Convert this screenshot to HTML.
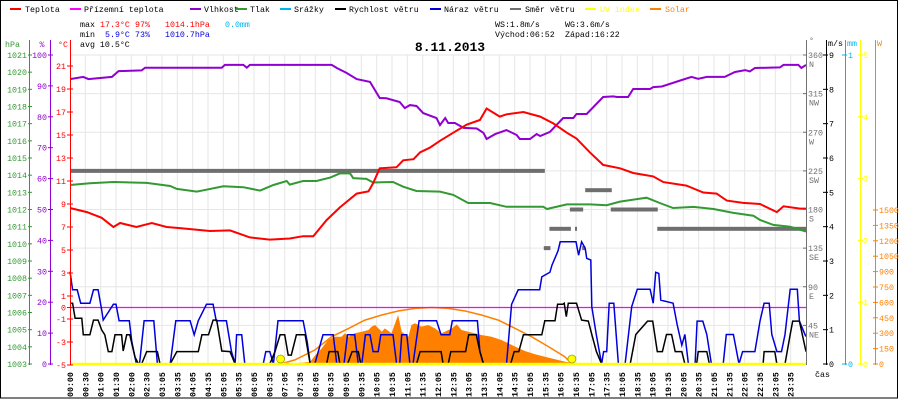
<!DOCTYPE html>
<html><head><meta charset="utf-8">
<style>
html,body{margin:0;padding:0;background:#fff;}
#wrap{position:relative;width:900px;height:400px;overflow:hidden;}
svg text{font-family:"Liberation Mono",monospace;}
</style></head>
<body>
<div id="wrap">
<svg id="chart" width="900" height="400" viewBox="0 0 900 400" xmlns="http://www.w3.org/2000/svg">
<rect x="0.5" y="0.5" width="897" height="397.5" fill="#fff" stroke="#000" stroke-width="1"/>
<g id="grid"></g>
<g id="series"></g>
<g id="axes"></g>
<g id="legend" font-size="8.3">
  <g><rect x="10" y="8" width="11" height="2" fill="#f00"/><text x="25" y="12">Teplota</text></g>
  <g><rect x="70" y="8" width="11" height="2" fill="#f0f"/><text x="84" y="12">Přízemní teplota</text></g>
  <g><rect x="190" y="8" width="11" height="2" fill="#9000d0"/><text x="204" y="12">Vlhkost</text></g>
  <g><rect x="236" y="8" width="11" height="2" fill="#339933"/><text x="250" y="12">Tlak</text></g>
  <g><rect x="280" y="8" width="11" height="2" fill="#00b4f0"/><text x="294" y="12">Srážky</text></g>
  <g><rect x="335" y="8" width="11" height="2" fill="#000"/><text x="349" y="12">Rychlost větru</text></g>
  <g><rect x="430" y="8" width="11" height="2" fill="#0000dd"/><text x="444" y="12">Náraz větru</text></g>
  <g><rect x="510" y="8" width="11" height="2" fill="#707070"/><text x="525" y="12">Směr větru</text></g>
  <g><rect x="585" y="8" width="11" height="2" fill="#ff0"/><text x="600" y="12" fill="#ff0">UV index</text></g>
  <g><rect x="650" y="8" width="11" height="2" fill="#ff8000"/><text x="665" y="12" fill="#ff8000">Solar</text></g>
</g>
<g id="stats" font-size="8.3">
  <text x="80" y="27">max</text>
  <text x="100" y="27" fill="#f00">17.3°C</text>
  <text x="135" y="27" fill="#f00">97%</text>
  <text x="165" y="27" fill="#f00">1014.1hPa</text>
  <text x="225" y="27" fill="#00b4f0">0.0mm</text>
  <text x="80" y="37">min</text>
  <text x="105" y="37" fill="#0000dd">5.9°C</text>
  <text x="135" y="37" fill="#0000dd">73%</text>
  <text x="165" y="37" fill="#0000dd">1010.7hPa</text>
  <text x="80" y="47">avg 10.5°C</text>
  <text x="495" y="27">WS:1.8m/s</text>
  <text x="565" y="27">WG:3.6m/s</text>
  <text x="495" y="37">Východ:06:52</text>
  <text x="565" y="37">Západ:16:22</text>
  <text x="450" y="51" text-anchor="middle" font-family="Liberation Sans, sans-serif" font-weight="bold" font-size="13">8.11.2013</text>
</g>
</svg>
</div>
<script>
const temp = [[0,8.65],[33,8.3],[62,7.8],[85,7.0],[98,7.35],[130,7.0],[160,7.35],[189,7.0],[215,6.9],[274,6.65],[313,6.7],[352,6.1],[391,5.9],[430,6.0],[456,6.2],[476,6.2],[502,7.6],[528,8.7],[561,9.9],[584,10.1],[593,10.8],[606,12.1],[639,12.2],[652,12.8],[672,12.9],[685,13.5],[704,13.9],[724,14.5],[750,15.2],[776,15.9],[802,16.3],[815,17.3],[841,16.6],[854,16.8],[887,17.0],[920,16.6],[946,16.0],[972,15.2],[991,14.7],[1017,13.5],[1043,12.4],[1076,12.1],[1102,11.7],[1141,11.4],[1161,10.9],[1206,10.6],[1239,10.0],[1265,9.9],[1285,9.3],[1317,9.1],[1350,9.0],[1383,8.3],[1396,8.8],[1428,8.6],[1440,8.6]];
const apparentTemp = [[0,0],[1440,0]];
const humidity = [[0,92.2],[26,92.9],[36,92.2],[82,92.9],[95,94.8],[140,95],[147,95.9],[297,95.9],[303,96.8],[339,96.8],[346,95.9],[352,96.8],[512,96.8],[522,95.8],[541,94.2],[561,92.2],[587,91.3],[606,86.1],[619,86],[645,84.8],[655,82.8],[665,83.8],[678,83.5],[691,81.2],[717,79.6],[724,77.3],[734,79.6],[740,78],[753,78],[770,76.4],[796,76.2],[809,74.8],[815,72.8],[832,74.4],[854,75.7],[874,74.1],[880,72.8],[900,72.8],[913,74.4],[920,73.8],[939,75.1],[965,79.6],[985,79.6],[991,80.9],[1011,80.9],[1043,86.4],[1063,86.6],[1070,86.4],[1092,86.4],[1102,89],[1135,89],[1141,89.6],[1158,89.8],[1197,91.9],[1216,92.9],[1229,92.3],[1246,92.9],[1281,92.9],[1301,94.5],[1321,95.1],[1330,94.7],[1340,95.8],[1389,96],[1396,96.8],[1425,96.8],[1431,95.8],[1440,96.8]];
const pressure = [[0,1013.43],[39,1013.53],[85,1013.6],[150,1013.55],[196,1013.37],[209,1013.2],[248,1013.04],[261,1013.12],[300,1013.35],[339,1013.3],[372,1013.1],[398,1013.43],[424,1013.66],[430,1013.45],[456,1013.66],[482,1013.66],[509,1013.86],[528,1014.1],[548,1014.1],[554,1013.83],[580,1013.78],[593,1013.57],[632,1013.6],[652,1013.33],[678,1013.08],[724,1013.04],[750,1012.85],[779,1012.38],[822,1012.38],[854,1012.16],[926,1012.16],[933,1012.03],[972,1012.3],[1017,1012.3],[1050,1012.25],[1076,1012.46],[1128,1012.69],[1154,1012.38],[1180,1012.09],[1220,1012.15],[1259,1012.03],[1298,1011.8],[1337,1011.64],[1350,1011.39],[1376,1011.1],[1409,1011.0],[1440,1010.71]];
const windSpeed = [[0,1.77],[5,1.77],[10,1.33],[23,1.33],[26,0.85],[39,0.85],[46,1.28],[55,1.28],[62,0.99],[68,0.85],[75,0.36],[82,0.36],[88,0.85],[101,0.85],[104,0.38],[111,0.85],[117,0.85],[127,0.21],[134,0],[140,0],[150,0.36],[171,0.36],[176,0],[196,0],[209,0.36],[251,0.36],[258,0.85],[271,0.85],[280,1.28],[287,1.28],[297,0.38],[313,0.36],[323,0],[391,0],[401,0.36],[411,0.85],[420,0.85],[427,0.26],[433,0.26],[443,0.85],[460,0.85],[470,0],[502,0],[507,0.36],[524,0.36],[528,0],[543,0],[552,0.36],[564,0.36],[569,0],[678,0],[685,0.36],[726,0.36],[730,0],[740,0],[745,0.36],[774,0.36],[780,0.85],[795,0.85],[802,0.36],[809,0],[862,0],[869,0.36],[878,0.36],[887,0.85],[923,0.85],[929,1.26],[949,1.26],[954,1.74],[964,1.74],[967,1.77],[971,1.38],[975,1.77],[991,1.77],[1001,1.28],[1014,1.25],[1021,0.86],[1030,0.36],[1040,0],[1096,0],[1107,0.86],[1130,1.25],[1140,1.25],[1149,0.36],[1159,0.36],[1167,0.86],[1177,0.86],[1184,0.36],[1197,0.36],[1203,0],[1226,0],[1229,0.36],[1246,0.36],[1251,0],[1356,0],[1358,0.36],[1379,0.36],[1383,0],[1399,0],[1409,0.86],[1414,1.25],[1427,1.25],[1440,0.36]];
const windGust = [[0,2.69],[5,2.16],[14,2.16],[21,1.77],[39,1.77],[46,2.16],[55,2.16],[62,1.57],[65,1.28],[85,1.74],[90,1.74],[96,1.26],[116,1.26],[121,0.65],[130,0],[136,0],[145,1.26],[164,1.26],[171,0],[196,0],[207,1.26],[235,1.26],[243,0.85],[251,1.26],[267,1.74],[280,1.74],[286,1.26],[306,1.26],[316,0.36],[323,0],[326,0.85],[336,0.85],[342,0],[378,0],[383,0.36],[391,0.36],[398,0],[407,1.26],[456,1.26],[464,0.65],[470,0],[479,0],[495,0.85],[515,0.85],[522,0],[536,0],[543,0.85],[557,0.85],[564,0],[571,0],[578,0.85],[587,0.85],[593,0.36],[603,0.36],[608,0.85],[632,0.85],[639,0],[645,0],[649,0.85],[659,0.85],[665,0],[671,0],[683,1.26],[717,1.26],[726,0.85],[743,0.85],[748,1.26],[797,1.26],[802,0.36],[809,0],[854,0],[864,1.74],[877,2.16],[919,2.16],[923,2.54],[939,2.67],[943,2.88],[955,3.3],[959,3.56],[990,3.56],[995,3.17],[1001,3.56],[1008,3.37],[1011,3.08],[1019,3.03],[1021,1.67],[1030,0.84],[1040,0],[1044,0.36],[1050,0.36],[1055,1.77],[1064,1.77],[1073,0],[1086,0],[1099,1.67],[1110,2.18],[1135,2.18],[1141,1.77],[1146,2.67],[1152,2.64],[1156,1.86],[1180,1.77],[1188,1.14],[1197,0.55],[1203,0.86],[1210,0],[1223,0],[1227,1.25],[1238,1.25],[1246,0.86],[1255,0],[1278,0],[1284,0.86],[1298,0.86],[1309,0],[1316,0.36],[1340,0.36],[1350,1.25],[1358,1.77],[1368,1.77],[1373,0.86],[1383,0.36],[1392,0.36],[1399,0.86],[1409,2.18],[1423,2.18],[1427,1.25],[1438,0.86],[1440,0.8]];
const windDirStart = [0,1008,978,1058,938,988,1149,927,1002];
const windDirEnd = [929,1060,1004,1150,980,992,1440,940,1008];
const windDirDeg = [225,202.5,180,180,157.5,157.5,157.5,135,135];
const solar = [[404,0],[440,5],[470,22],[479,80],[492,150],[505,234],[518,266],[531,266],[538,299],[545,266],[557,299],[571,315],[584,331],[590,364],[597,380],[610,315],[616,347],[629,299],[642,477],[649,315],[662,266],[668,380],[675,396],[688,364],[701,380],[714,347],[727,299],[747,347],[757,386],[766,331],[779,315],[792,299],[805,282],[825,266],[844,234],[858,201],[871,169],[890,127],[910,94],[936,62],[968,23],[990,5],[1000,0]];
const solarMax = [[412,0],[440,40],[479,136],[512,266],[545,347],[577,428],[610,477],[642,516],[675,542],[708,550],[740,542],[773,516],[805,477],[838,428],[871,347],[903,266],[936,169],[968,71],[982,0]];
const uv = [[0,0],[1440,0]];
const sunEvents = [412, 982];
const xTickLabels = ["00:00","00:30","01:00","01:30","02:00","02:30","03:05","03:35","04:05","04:35","05:05","05:35","06:05","06:35","07:05","07:35","08:05","08:35","09:05","09:35","10:05","10:35","11:05","11:35","12:05","12:35","13:05","13:35","14:05","14:35","15:05","15:35","16:05","16:35","17:05","17:35","18:05","18:35","19:05","19:35","20:05","20:35","21:05","21:35","22:05","22:35","23:05","23:35"];
const hpaTicks = [1003,1004,1005,1006,1007,1008,1009,1010,1011,1012,1013,1014,1015,1016,1017,1018,1019,1020,1021];
const humTicks = [0,10,20,30,40,50,60,70,80,90,100];
const tempTicks = [-5,-3,-1,0,1,3,5,7,9,11,13,15,17,19,21];
const dirTicks = [[45,"NE"],[90,"E"],[135,"SE"],[180,"S"],[225,"SW"],[270,"W"],[315,"NW"],[360,"N"]];
const msTicks = [0,1,2,3,4,5,6,7,8,9];
const uvTicks = [0,1,2,3,4,5];
const solarTicks = [0,150,300,450,600,750,900,1050,1200,1350,1500];

const NS = "http://www.w3.org/2000/svg";
const FS = 8.3;
const X0 = 70, X1 = 806, YB = 364, YT = 55;
const X = m => X0 + m * (X1 - X0) / 1440;
const yTemp = t => 307.5 - t * 11.5;
const yHum = h => YB - h * (YB - YT) / 100;
const yPress = p => YB - (p - 1003) * (YB - YT) / 18;
const yMs = v => YB - v * (YB - YT) / 9;
const yDeg = d => YB - d * (YB - YT) / 360;
const ySolar = w => YB - w * 154 / 1500;
const yUv = u => YB - u * (YB - YT) / 5;

function mk(tag, attrs, parent) {
  const e = document.createElementNS(NS, tag);
  for (const k in attrs) e.setAttribute(k, attrs[k]);
  parent.appendChild(e);
  return e;
}
const grid = document.getElementById('grid');
const series = document.getElementById('series');
const axes = document.getElementById('axes');

xTickLabels.forEach((lab, i) => {
  const x = X0 + i * (X1 - X0) / 48;
  if (i > 0) {
    const l = mk('line', {x1:x, x2:x, y1:YT, y2:YB, stroke:'#e6e6e6', 'stroke-width':1}, grid);
    
    
  }
  const t = mk('text', {x:0, y:0, transform:`translate(${x+3},397) rotate(-90)`, 'font-size':FS, 'font-weight':'bold'}, axes);
  
  
  t.textContent = lab;
});
dirTicks.forEach(d => {
  const y = yDeg(d[0]);
  const l = mk('line', {x1:X0, x2:X1, y1:y, y2:y, stroke:'#e6e6e6', 'stroke-width':1}, grid);
  
  
});

function path(data, fx, fy) {
  return data.map((p, i) => (i ? 'L' : 'M') + fx(p[0]).toFixed(1) + ' ' + fy(p[1]).toFixed(1)).join(' ');
}
const sf = mk('path', {d: path(solar, X, ySolar) + ` L${X(solar[solar.length-1][0])} ${YB} L${X(solar[0][0])} ${YB} Z`, fill:'#ff8000', stroke:'none'}, series);


const sm = mk('path', {d: path(solarMax, X, ySolar), fill:'none', stroke:'#ff8000', 'stroke-width':1.5}, series);


windDirDeg.forEach((d, i) => {
  const r = mk('rect', {x:X(windDirStart[i]), y:yDeg(d)-2, width:Math.max(1, X(windDirEnd[i]) - X(windDirStart[i])), height:4, fill:'#6e6e6e'}, series);
  
  
});
const pp = mk('path', {d: path(pressure, X, yPress), fill:'none', stroke:'#339933', 'stroke-width':2}, series);


const hp = mk('path', {d: path(humidity, X, yHum), fill:'none', stroke:'#9000d0', 'stroke-width':2}, series);


const tp = mk('path', {d: path(temp, X, yTemp), fill:'none', stroke:'#ff0000', 'stroke-width':2}, series);


const ap = mk('path', {d: path(apparentTemp, X, yTemp), fill:'none', stroke:'#ff00ff', 'stroke-width':1.2}, series);


const gp = mk('path', {d: path(windGust, X, yMs), fill:'none', stroke:'#0000dd', 'stroke-width':1.5}, series);


const wp = mk('path', {d: path(windSpeed, X, yMs), fill:'none', stroke:'#000', 'stroke-width':1.5}, series);


const up = mk('path', {d: path(uv, X, yUv), fill:'none', stroke:'#ffff00', 'stroke-width':2.5}, series);


sunEvents.forEach(m => {
  const c = mk('circle', {cx:X(m), cy:YB-5, r:4, fill:'#ffff00', stroke:'#a0a000', 'stroke-width':0.8}, series);
  
  
});

function axisLine(x, color, name, y0) {
  const l = mk('line', {x1:x, x2:x, y1:y0 || 40, y2:YB+1, stroke:color, 'stroke-width':1}, axes);
  
  
}
function label(x, y, txt, color, anchor, name) {
  const t = mk('text', {x:x, y:y, fill:color, 'font-size':FS, 'text-anchor':anchor}, axes);
  
  
  t.textContent = txt;
}
function tick(x1, x2, y, color) {
  const l = mk('line', {x1:x1, x2:x2, y1:y, y2:y, stroke:color, 'stroke-width':1}, axes);
  
  
}
axisLine(29.5, '#339933', 'pressure-axis');
axisLine(50.5, '#9000d0', 'humidity-axis');
axisLine(70.5, '#ff0000', 'temperature-axis');
axisLine(806.5, '#707070', 'wind-direction-axis');
axisLine(826.5, '#000', 'wind-speed-axis');
axisLine(845.5, '#00b4f0', 'rain-axis');
axisLine(860.5, '#ffff00', 'uv-axis');
axisLine(875.5, '#ff8000', 'solar-axis');
label(5, 47, 'hPa', '#339933', 'start', 'pressure-axis-title');
label(42, 47, '%', '#9000d0', 'middle', 'humidity-axis-title');
label(63, 47, '°C', '#ff0000', 'middle', 'temperature-axis-title');
label(809, 43, '°', '#707070', 'start', 'direction-axis-title');
label(828, 46, 'm/s', '#000', 'start', 'wind-speed-axis-title');
label(847, 46, 'mm', '#00b4f0', 'start', 'rain-axis-title');
label(877, 46, 'W', '#ff8000', 'start', 'solar-axis-title');
label(815, 377, 'čas', '#000', 'start', 'x-axis-title');
hpaTicks.forEach(p => { const y = yPress(p); tick(28, 32, y, '#339933'); label(27, y+3, String(p), '#339933', 'end', 'pressure-tick-label'); });
humTicks.forEach(h => { const y = yHum(h); tick(48, 53, y, '#9000d0'); label(47, y+3, String(h), '#9000d0', 'end', 'humidity-tick-label'); });
tempTicks.forEach(t => { const y = yTemp(t); tick(67, 73, y, '#ff0000'); label(66, y+3, String(t), '#ff0000', 'end', 'temperature-tick-label'); });
dirTicks.forEach(d => { const y = yDeg(d[0]); tick(803, 807, y, '#707070'); label(808, y+3, String(d[0]), '#707070', 'start', 'direction-tick-label'); label(809, y+12, d[1], '#707070', 'start', 'direction-compass-label'); });
msTicks.forEach(v => { const y = yMs(v); tick(823, 828, y, '#000'); label(829, y+3, String(v), '#000', 'start', 'wind-speed-tick-label'); });
[0,1].forEach(v => { const y = v ? YT : YB; tick(842, 847, y, '#00b4f0'); label(848, y+3, String(v), '#00b4f0', 'start', 'rain-tick-label'); });
uvTicks.forEach(u => { const y = yUv(u); tick(858, 863, y, '#ffff00'); label(863, y+3, String(u), '#ffff00', 'start', 'uv-tick-label'); });
solarTicks.forEach(w => { const y = ySolar(w); tick(873, 878, y, '#ff8000'); label(879, y+3, String(w), '#ff8000', 'start', 'solar-tick-label'); });
</script>
</body></html>
